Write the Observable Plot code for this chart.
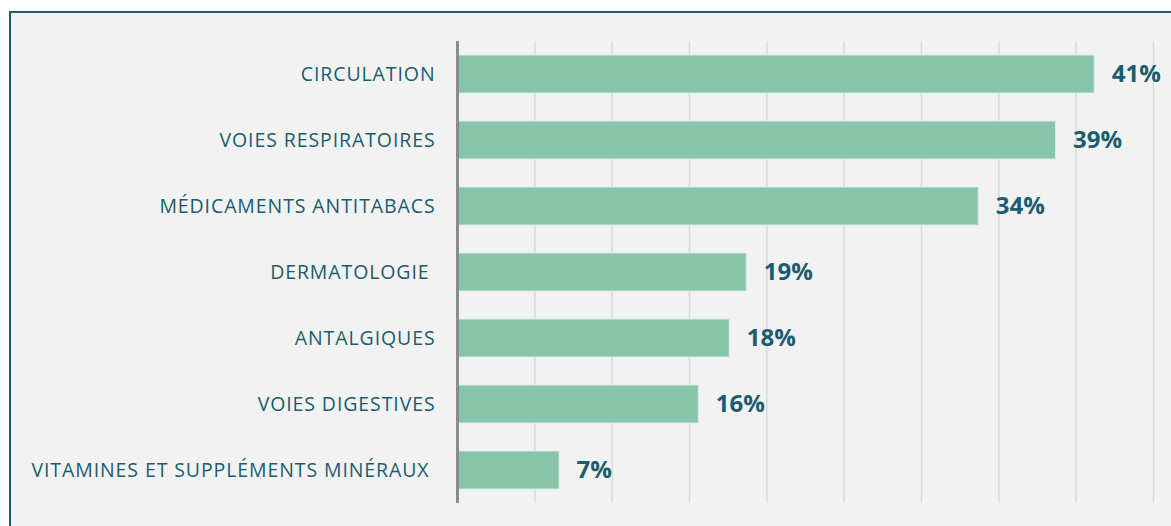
<!DOCTYPE html>
<html>
<head>
<meta charset="utf-8">
<script src="https://cdn.jsdelivr.net/npm/d3@7"></script>
<script src="https://cdn.jsdelivr.net/npm/@observablehq/plot@0.6"></script>
<style>
  html, body { margin: 0; padding: 0; background: #ffffff; width: 1171px; height: 526px; overflow: hidden; }
  #frame { position: absolute; left: 9px; top: 11px; width: 1300px; height: 600px; border-left: 2px solid #1b5c6e; border-top: 2px solid #1b5c6e; background: #f2f2f2; }
  #chart { position: absolute; left: 0; top: 0; }
  #chart svg { background: transparent; }
  #chart svg g[aria-label="y-axis tick label"] text { letter-spacing: 0.9px; }
</style>
</head>
<body>
<div id="frame"></div>
<div id="chart"></div>
<script>
const categories = [
  "CIRCULATION",
  "VOIES RESPIRATOIRES",
  "MÉDICAMENTS ANTITABACS",
  "DERMATOLOGIE ",
  "ANTALGIQUES",
  "VOIES DIGESTIVES",
  "VITAMINES ET SUPPLÉMENTS MINÉRAUX "
];
const values = [41.2, 38.7, 33.7, 18.7, 17.6, 15.6, 6.6];
const valueLabels = ["41%", "39%", "34%", "19%", "18%", "16%", "7%"];
const gridTicks = [5, 10, 15, 20, 25, 30, 35, 40, 45];

const data = categories.map((c, i) => ({cat: c, value: values[i], label: valueLabels[i]}));
const teal = "#1b5c6e";

const chart = Plot.plot({
  width: 1171,
  height: 526,
  marginLeft: 457,
  marginRight: 18,
  marginTop: 41,
  marginBottom: 23,
  style: {background: "transparent", fontFamily: "'Open Sans', Lato, sans-serif"},
  x: {domain: [0, 45], axis: null},
  y: {domain: categories, paddingInner: 0.42, paddingOuter: 0.21, axis: null},
  marks: [
    Plot.ruleX(gridTicks, {stroke: "#d9d9d9", strokeWidth: 1.5}),
    Plot.barX(data, {y: "cat", x: "value", fill: "#88c4aa", stroke: "#d8ede3", strokeWidth: 1}),
    Plot.ruleX([0], {stroke: "#8c8c8c", strokeWidth: 3}),
    Plot.axisY({tickSize: 0, tickPadding: 22, fontSize: 19.5, color: teal, textAnchor: "end", label: null}),
    Plot.text(data, {y: "cat", x: "value", text: "label", textAnchor: "start", dx: 17, fontSize: 24, fontWeight: "bold", fill: teal})
  ]
});
document.getElementById("chart").appendChild(chart);
</script>
</body>
</html>
